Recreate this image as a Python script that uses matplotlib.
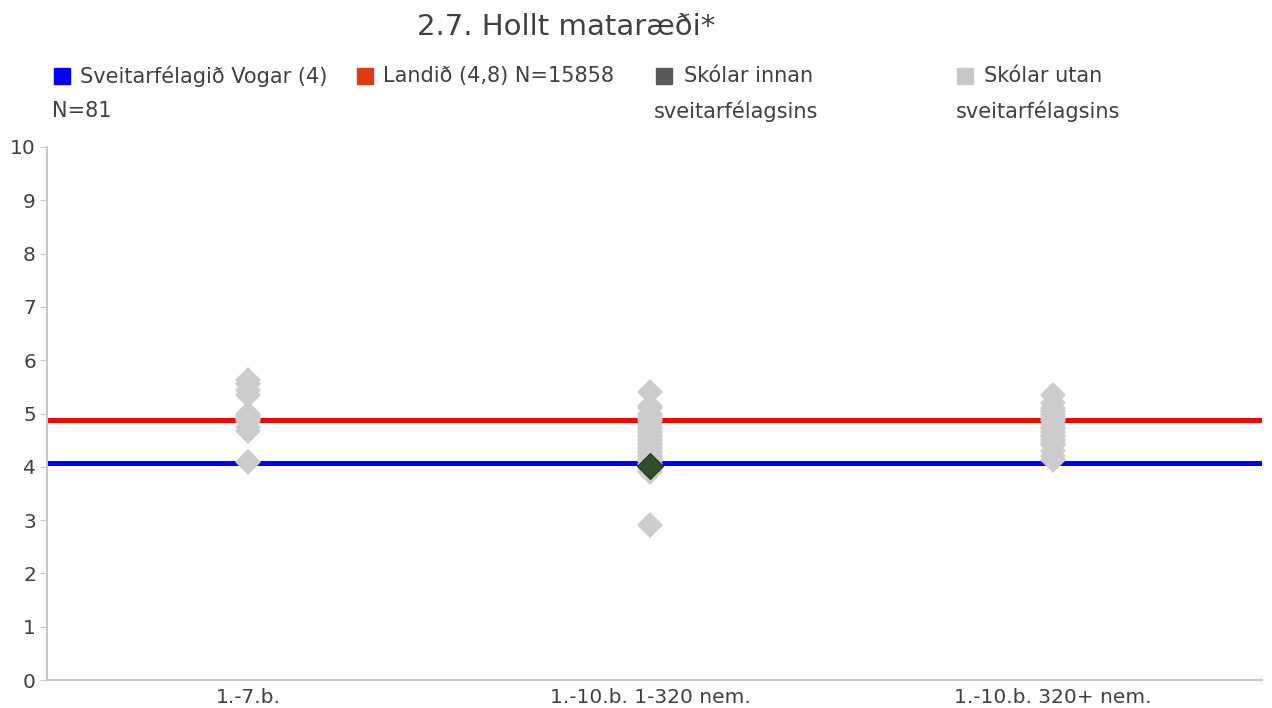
import matplotlib
matplotlib.use("Agg")
import matplotlib.pyplot as plt
from matplotlib.patches import Rectangle

# Chart data
categories = ["1.-7.b.", "1.-10.b. 1-320 nem.", "1.-10.b. 320+ nem."]
vogar_mean = 4.08
landid_mean = 4.88

schools_outside = [
    [5.62, 5.55, 5.45, 5.35, 5.0, 4.95, 4.9, 4.85, 4.75, 4.67, 4.09],
    [5.40, 5.15, 5.1, 5.0, 4.95, 4.9, 4.85, 4.8, 4.75, 4.7, 4.65, 4.6, 4.55,
     4.5, 4.45, 4.4, 4.35, 4.3, 4.25, 4.2, 4.15, 4.1, 4.05, 3.95, 3.9, 2.9],
    [5.35, 5.2, 5.1, 5.05, 5.0, 4.95, 4.9, 4.85, 4.8, 4.75, 4.7, 4.65, 4.6,
     4.55, 4.5, 4.45, 4.4, 4.3, 4.2, 4.13],
]
schools_inside = [None, 4.02, None]

legend_labels = [
    ("Sveitarfélagið Vogar (4)", "N=81"),
    ("Landið (4,8) N=15858", None),
    ("Skólar innan", "sveitarfélagsins"),
    ("Skólar utan", "sveitarfélagsins"),
]
legend_colors = ["#0000FF", "#DD3A16", "#595959", "#C8C8C8"]

TEXT = "#404040"
GRID = "#C8C8C8"
plt.rcParams["font.family"] = ["DejaVu Sans"]

W, H = 1272, 708
fig = plt.figure(figsize=(W / 100, H / 100), dpi=100)

def fx(px):
    return px / W

def fy(py):
    return 1 - py / H

ax = fig.add_axes([fx(47), fy(680), fx(1262) - fx(47), fy(147) - fy(680)])

x = list(range(len(categories)))
ax.axhline(landid_mean, color="#FF0000", lw=3.6, zorder=1)
ax.axhline(vogar_mean, color="#0000FF", lw=3.6, zorder=1)

for i, vals in enumerate(schools_outside):
    ax.plot([x[i]] * len(vals), vals, linestyle="none", marker="D",
            markersize=13.5, color="#CCCCCC", markeredgewidth=0, zorder=2)
for i, v in enumerate(schools_inside):
    if v is not None:
        ax.plot([x[i]], [v], linestyle="none", marker="D", markersize=13.5,
                color="#2F4F2C", markeredgecolor="#243a22",
                markeredgewidth=0.8, zorder=3)

ax.set_xlim(-0.5, len(categories) - 0.48)
ax.set_ylim(0, 10)
ax.set_yticks(range(0, 11))
ax.set_xticks(x)
ax.set_xticklabels(categories)
ax.tick_params(axis="y", length=5, color=GRID, labelsize=14.5, labelcolor=TEXT, pad=3)
ax.tick_params(axis="x", length=0, labelsize=14.5, labelcolor=TEXT, pad=6)
for s in ("top", "right"):
    ax.spines[s].set_visible(False)
for s in ("left", "bottom"):
    ax.spines[s].set_color(GRID)
    ax.spines[s].set_linewidth(1.5)

fig.text(fx(566), fy(27), "2.7. Hollt mataræði*", ha="center", va="center",
         fontsize=21, color=TEXT)

# Legend laid out across the top
sq_x = [62, 365, 664, 965]
txt_x = [80, 383, 684, 984]
line2_x = [52, None, 654, 956]
for (l1, l2), c, sx, tx, lx in zip(legend_labels, legend_colors, sq_x, txt_x, line2_x):
    fig.add_artist(Rectangle((fx(sx - 8), fy(84)), fx(16), fy(68) - fy(84),
                             transform=fig.transFigure, color=c))
    fig.text(fx(tx), fy(76), l1, ha="left", va="center", fontsize=15, color=TEXT)
    if l2:
        fig.text(fx(lx), fy(111), l2, ha="left", va="center", fontsize=15, color=TEXT)

fig.savefig("out.png", dpi=100)
